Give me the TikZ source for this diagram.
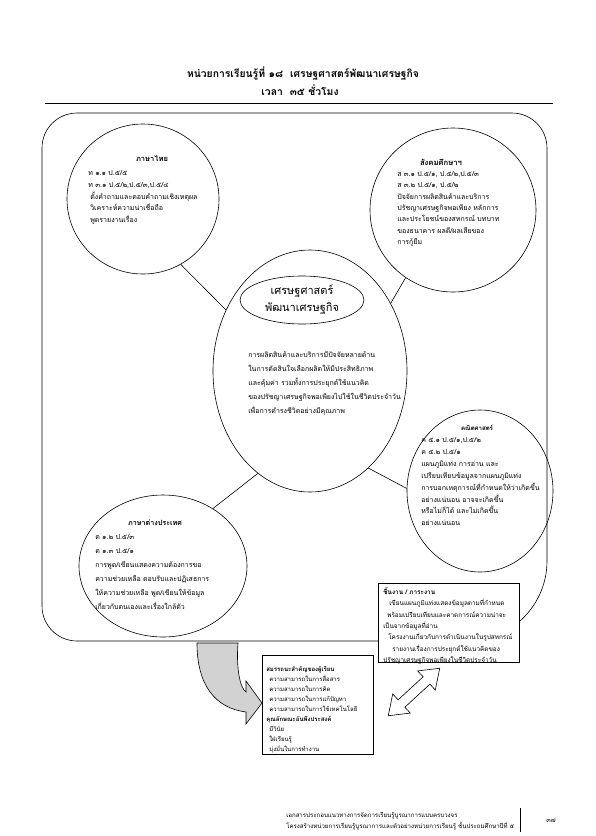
\documentclass[tikz,border=0pt]{standalone}
\usepackage{fontspec}
\newfontfamily\thai[Script=Thai]{Loma}
\usetikzlibrary{shapes.geometric}
\newlength\tmplen
\newcommand\calcsize[3]{\settowidth\tmplen{\thai\fontsize{10}{12}\selectfont #3}\pgfmathsetmacro#1{10*#2/\tmplen}}
\newcommand\calcsizeb[3]{\settowidth\tmplen{\thai\bfseries\fontsize{10}{12}\selectfont #3}\pgfmathsetmacro#1{10*#2/\tmplen}}
\newcommand\lines[1]{\begin{tabular}[t]{@{}l@{}}#1\end{tabular}}
\AtBeginDocument{%
\calcsize{\szce}{147}{ของปรัชญาเศรษฐกิจพอเพียงไปใช้ในชีวิตประจำวัน}%
\calcsize{\szlb}{118}{ความช่วยเหลือ ตอบรับและปฏิเสธการ}%
\pgfmathsetmacro\szbub{(\szce+\szlb)/2}%
\calcsize{\szwb}{124}{โครงงานเกี่ยวกับการดำเนินงานในรูปสหกรณ์}%
\calcsize{\szcb}{88}{ความสามารถในการใช้เทคโนโลยี}%
\calcsize{\szft}{228}{โครงสร้างหน่วยการเรียนรู้บูรณาการและตัวอย่างหน่วยการเรียนรู้ ชั้นประถมศึกษาปีที่ ๕}%
\calcsize{\szct}{74}{พัฒนาเศรษฐกิจ}%
\calcsizeb{\szttl}{232}{หน่วยการเรียนรู้ที่ ๑๘ \ เศรษฐศาสตร์พัฒนาเศรษฐกิจ}%
\calcsizeb{\szhlt}{32}{ภาษาไทย}%
\calcsizeb{\szhrt}{42}{สังคมศึกษาฯ}%
\calcsizeb{\szhrm}{32}{คณิตศาสตร์}%
\calcsizeb{\szhlb}{54}{ภาษาต่างประเทศ}%
}
\begin{document}
\begin{tikzpicture}[x=1pt,y=-1pt,line width=0.6pt,
  bubble/.style={draw, ellipse, inner sep=0pt},
  body/.style 2 args={anchor=base west, inner sep=0pt, font=\thai\fontsize{#1}{#2}\selectfont},
  head/.style={anchor=base, inner sep=0pt, font=\thai\bfseries\fontsize{#1}{10}\selectfont},
  ttlfont/.style={anchor=base, inner sep=0pt, font=\thai\bfseries\fontsize{\szttl}{12}\selectfont},
  panel/.style={draw, fill=white, inner sep=0pt},
]
\useasboundingbox[fill=white] (0,0) rectangle (595,836);

% title
\node[ttlfont] (ttl) at (303,77.5) {หน่วยการเรียนรู้ที่ ๑๘ \ เศรษฐศาสตร์พัฒนาเศรษฐกิจ};
\node[ttlfont] (tim) at (300,95.5) {เวลา \ ๓๕ ชั่วโมง};
\coordinate (ruleL) at (45,103);
\coordinate (ruleR) at (553,103);
\draw (ruleL) -- (ruleR);

% frame
\draw[rounded corners=35pt] (300,113) -| (547,350) [rounded corners=80pt] |- (300,641) [rounded corners=35pt] -| (42,350) |- (300,113);

% bubbles
\node[bubble, minimum width=152pt, minimum height=150pt] (lt) at (143,199) {};
\node[bubble, minimum width=166pt, minimum height=164pt] (rt) at (453,210) {};
\node[bubble, minimum width=194pt, minimum height=242pt] (ce) at (310,371) {};
\node[bubble, minimum width=124pt, minimum height=48pt, align=center, font=\thai\fontsize{\szct}{17}\selectfont] (ct) at (302,300) {เศรษฐศาสตร์\\พัฒนาเศรษฐกิจ};
\node[bubble, minimum width=146pt, minimum height=162pt] (rm) at (480,491) {};
\node[bubble, minimum width=168pt, minimum height=142pt] (lb) at (163,566) {};

% links
\draw (lt.-60) -- (ce.144);
\draw (rt.235) -- (ce.40);
\draw (ce.-59) -- (rm.178);
\draw (lb.49) -- (ce.243);

% bubble texts
\node[head=\szhlt] (lth) at (152,161.5) {ภาษาไทย};
\node[body={\szbub}{11.8}] (ltb) at (88,175.5) {\lines{ท ๑.๑ ป.๕/๕\\ท ๓.๑ ป.๕/๒,ป.๕/๓,ป.๕/๔\\\hspace*{2pt}ตั้งคำถามและตอบคำถามเชิงเหตุผล\\\hspace*{2pt}วิเคราะห์ความน่าเชื่อถือ\\\hspace*{2pt}พูดรายงานเรื่อง}};

\node[head=\szhrt] (rth) at (441,165.5) {สังคมศึกษาฯ};
\node[body={\szbub}{11.3}] (rtb) at (397,176.5) {\lines{ส ๓.๑ ป.๕/๑, ป.๕/๒,ป.๕/๓\\ส ๓.๒ ป.๕/๑, ป.๕/๒\\ปัจจัยการผลิตสินค้าและบริการ\\ปรัชญาเศรษฐกิจพอเพียง หลักการ\\และประโยชน์ของสหกรณ์ บทบาท\\ของธนาคาร ผลดี/ผลเสียของ\\การกู้ยืม}};

\node[body={\szbub}{14.2}] (ceb) at (248,357) {\lines{การผลิตสินค้าและบริการมีปัจจัยหลายด้าน\\ในการตัดสินใจเลือกผลิตให้มีประสิทธิภาพ\\และคุ้มค่า รวมทั้งการประยุกต์ใช้แนวคิด\\ของปรัชญาเศรษฐกิจพอเพียงไปใช้ในชีวิตประจำวัน\\เพื่อการดำรงชีวิตอย่างมีคุณภาพ}};

\node[head=\szhrm] (rmh) at (477,430.5) {คณิตศาสตร์};
\node[body={\szbub}{11.9}] (rmb) at (421,442.5) {\lines{ค ๕.๑ ป.๕/๑,ป.๕/๒\\ค ๕.๒ ป.๕/๑\\แผนภูมิแท่ง การอ่าน และ\\เปรียบเทียบข้อมูลจากแผนภูมิแท่ง\\การบอกเหตุการณ์ที่กำหนดให้ว่าเกิดขึ้น\\อย่างแน่นอน อาจจะเกิดขึ้น\\หรือไม่ก็ได้ และไม่เกิดขึ้น\\อย่างแน่นอน}};

\node[head=\szhlb] (lbh) at (155,525.5) {ภาษาต่างประเทศ};
\node[body={\szbub}{14}] (lbb) at (95,539.5) {\lines{ต ๑.๒ ป.๕/๓\\ต ๑.๓ ป.๕/๑\\การพูด/เขียนแสดงความต้องการขอ\\ความช่วยเหลือ ตอบรับและปฏิเสธการ\\ให้ความช่วยเหลือ พูด/เขียนให้ข้อมูล\\เกี่ยวกับตนเองและเรื่องใกล้ตัว}};

% curved arrow
\draw[fill=gray!35] (197,643) .. controls (197,685) and (215,708) .. (246,712) -- (246,724) -- (262,703) -- (246,681) -- (246,692) .. controls (240,688) and (236,668) .. (238,643) -- cycle;

% double arrow
\begin{scope}[shift={(414,692)}, rotate=42.7]
\draw[fill=white] (-35,0) -- (-17,-13) -- (-17,-5) -- (17,-5) -- (17,-13) -- (35,0) -- (17,13) -- (17,5) -- (-17,5) -- (-17,13) -- cycle;
\end{scope}

% boxes
\node[panel, minimum width=141pt, minimum height=79pt] (wb) at (448.5,622.5) {};
\node[body={\szwb}{11.3}] (wbt) at (383,594.5) {\lines{{\bfseries ชิ้นงาน / ภาระงาน}\\\hspace*{6pt}เขียนแผนภูมิแท่งแสดงข้อมูลตามที่กำหนด\\\hspace*{4pt}พร้อมเปรียบเทียบและคาดการณ์ความน่าจะ\\เป็นจากข้อมูลที่อ่าน\\\hspace*{5pt}โครงงานเกี่ยวกับการดำเนินงานในรูปสหกรณ์\\\hspace*{9pt}รายงานเรื่องการประยุกต์ใช้แนวคิดของ\\ปรัชญาเศรษฐกิจพอเพียงในชีวิตประจำวัน}};

\node[panel, minimum width=111pt, minimum height=99pt] (cb) at (317.5,704.5) {};
\node[body={\szcb}{10}] (cbt) at (266,671.5) {\lines{{\bfseries สมรรถนะสำคัญของผู้เรียน}\\\hspace*{3pt}ความสามารถในการสื่อสาร\\\hspace*{3pt}ความสามารถในการคิด\\\hspace*{3pt}ความสามารถในการแก้ปัญหา\\\hspace*{3pt}ความสามารถในการใช้เทคโนโลยี\\{\bfseries คุณลักษณะอันพึงประสงค์}\\\hspace*{3pt}มีวินัย\\\hspace*{3pt}ใฝ่เรียนรู้\\\hspace*{3pt}มุ่งมั่นในการทำงาน}};

% footer
\node[body={\szft}{11}] (ft) at (286,817) {\lines{เอกสารประกอบแนวทางการจัดการเรียนรู้บูรณาการแบบครบวงจร\\โครงสร้างหน่วยการเรียนรู้บูรณาการและตัวอย่างหน่วยการเรียนรู้ ชั้นประถมศึกษาปีที่ ๕}};
\coordinate (barT) at (520,808);
\coordinate (barB) at (520,832);
\draw[line width=0.9pt] (barT) -- (barB);
\node[inner sep=0pt, font=\thai\fontsize{6.5}{8}\selectfont] (pg) at (551,821) {๓๗};
\end{tikzpicture}
\end{document}
